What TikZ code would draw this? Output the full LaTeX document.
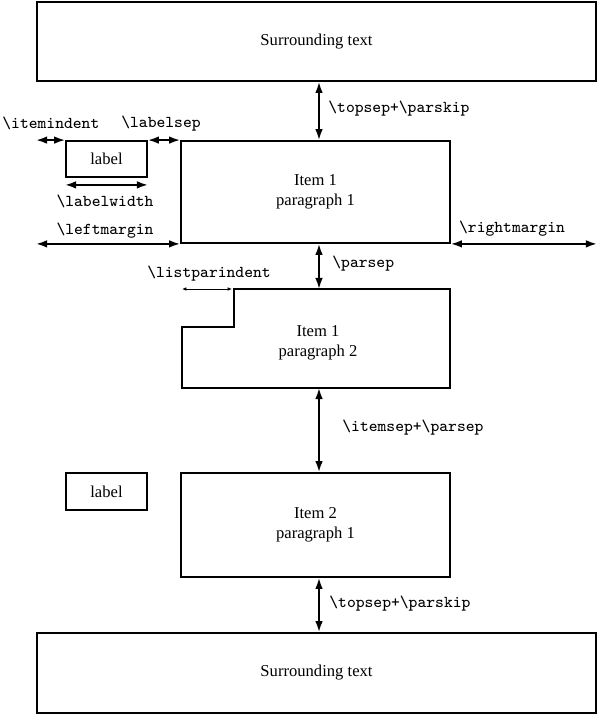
\documentclass[tikz,border=0pt]{standalone}
\usepackage{fontspec}
\setmainfont{Liberation Serif}
\usetikzlibrary{arrows.meta}
\begin{document}
\begin{tikzpicture}[x=0.5pt,y=-0.5pt,
  box/.style={draw,line width=0.9pt,inner sep=0pt,align=center,font=\fontsize{8.3}{10}\selectfont},
  dimarrow/.style={line width=0.9pt,{Latex[length=5.5pt,width=3.8pt]}-{Latex[length=5.5pt,width=3.8pt]}},
  thinarrow/.style={line width=0.4pt,{Latex[length=2.2pt,width=1.8pt]}-{Latex[length=2.2pt,width=1.8pt]}},
  dimlabel/.style={inner sep=0pt,font=\fontsize{8.3}{10}\ttfamily}]
\useasboundingbox (0,0) rectangle (598,715);
% boxes
\node[box,minimum width=279.5pt,minimum height=39.5pt] (top) at (316.5,41.5) {Surrounding text};
\node[box,minimum width=134.5pt,minimum height=51pt] (item1) at (315.5,192) {Item 1\\paragraph 1};
\node[box,minimum width=40.5pt,minimum height=18pt] (label1) at (106.5,159) {label};
\coordinate (p2top) at (234,289);
\coordinate (p2tr) at (450,289);
\coordinate (p2br) at (450,388);
\coordinate (p2bl) at (182,388);
\coordinate (p2sl) at (182,327);
\coordinate (p2sr) at (234,327);
\draw[line width=0.9pt] (p2top) -- (p2tr) -- (p2br) -- (p2bl) -- (p2sl) -- (p2sr) -- cycle;
\node[inner sep=0pt,align=center,font=\fontsize{8.3}{10}\selectfont] (p2text) at (318,343) {Item 1\\paragraph 2};
\node[box,minimum width=134.5pt,minimum height=52pt] (item2) at (315.5,525) {Item 2\\paragraph 1};
\node[box,minimum width=40.5pt,minimum height=18.5pt] (label2) at (106.5,491.5) {label};
\node[box,minimum width=279.5pt,minimum height=40pt] (bot) at (316.5,673) {Surrounding text};
% arrows
\coordinate (ax) at (319,0);
\draw[dimarrow] (ax |- top.south) -- (ax |- item1.north);
\draw[dimarrow] (top.south west |- label1.north) -- (label1.north west);
\draw[dimarrow] (label1.north east) -- (item1.north west);
\draw[dimarrow] ([yshift=-3.5pt]label1.south west) -- ([yshift=-3.5pt]label1.south east);
\draw[dimarrow] (top.south west |- item1.south) -- (item1.south west);
\draw[dimarrow] (item1.south east) -- (top.south east |- item1.south);
\draw[dimarrow] (ax |- item1.south) -- (ax |- p2top);
\draw[thinarrow] (p2sl |- p2top) -- ([xshift=-1pt]p2top);
\draw[dimarrow] (ax |- p2br) -- (ax |- item2.north);
\draw[dimarrow] (ax |- item2.south) -- (ax |- bot.north);
% labels
\node[dimlabel,anchor=west] (l-topsep1) at (328,109) {\textbackslash topsep+\textbackslash parskip};
\node[dimlabel,anchor=west] (l-itemindent) at (2,123) {\textbackslash itemindent};
\node[dimlabel] (l-labelsep) at (161,124) {\textbackslash labelsep};
\node[dimlabel] (l-labelwidth) at (105,201) {\textbackslash labelwidth};
\node[dimlabel] (l-leftmargin) at (105,231) {\textbackslash leftmargin};
\node[dimlabel] (l-rightmargin) at (512,229) {\textbackslash rightmargin};
\node[dimlabel] (l-listparindent) at (209,274) {\textbackslash listparindent};
\node[dimlabel,anchor=west] (l-parsep) at (332,264) {\textbackslash parsep};
\node[dimlabel,anchor=west] (l-itemsep) at (342,428) {\textbackslash itemsep+\textbackslash parsep};
\node[dimlabel,anchor=west] (l-topsep2) at (329,604) {\textbackslash topsep+\textbackslash parskip};
\end{tikzpicture}
\end{document}
